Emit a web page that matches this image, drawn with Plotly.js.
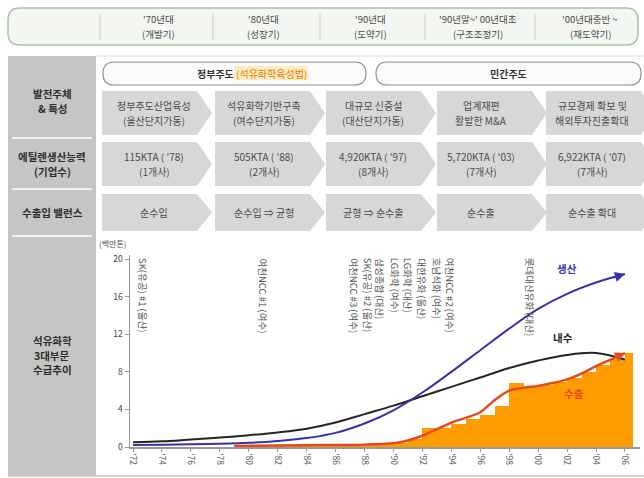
<!DOCTYPE html>
<html>
<head>
<meta charset="utf-8">
<script src="https://cdn.plot.ly/plotly-3.0.1.min.js"></script>
<style>
  html, body { margin: 0; padding: 0; background: #fff; }
  #chart { width: 644px; height: 478px; }
</style>
</head>
<body>
<div id="chart"></div>
<script>
// ---- Supply & demand of the three petrochemical segments (million tons) ----
const years = [1972, 1974, 1976, 1978, 1980, 1982, 1984, 1986, 1988, 1990, 1992, 1994, 1996, 1998, 2000, 2002, 2004, 2006];
const tickLabels = ["'72", "'74", "'76", "'78", "'80", "'82", "'84", "'86", "'88", "'90", "'92", "'94", "'96", "'98", "'00", "'02", "'04", "'06"];
const production = [0.2, 0.25, 0.3, 0.35, 0.45, 0.65, 0.95, 1.5, 2.5, 3.9, 5.8, 8.0, 10.3, 12.6, 14.7, 16.3, 17.5, 18.4];
const domestic = [0.5, 0.6, 0.8, 1.0, 1.25, 1.55, 1.95, 2.6, 3.5, 4.4, 5.4, 6.4, 7.4, 8.4, 9.2, 9.8, 10.0, 9.3];

const exportYears = [1979, 1982, 1985, 1988, 1990, 1991, 1992, 1993, 1994, 1995, 1996, 1997, 1998, 1999, 2000, 2001, 2002, 2003, 2004, 2005, 2006];
const exportTrend = [0.1, 0.15, 0.2, 0.25, 0.4, 0.7, 1.2, 1.9, 2.6, 3.1, 3.7, 5.0, 6.0, 6.3, 6.5, 6.8, 7.2, 7.8, 8.6, 9.3, 10.0];

const exportBlockYears = [1979, 1980, 1981, 1982, 1983, 1984, 1985, 1986, 1987, 1988, 1989, 1990, 1991, 1992, 1993, 1994, 1995, 1996, 1997, 1998, 1999, 2000, 2001, 2002, 2003, 2004, 2005, 2006];
const exportBlocks = [0.2, 0.2, 0.2, 0.2, 0.2, 0.2, 0.2, 0.2, 0.25, 0.25, 0.3, 0.45, 0.8, 2.0, 2.0, 2.4, 3.0, 3.4, 4.4, 6.8, 6.4, 6.6, 6.9, 7.3, 8.0, 8.7, 9.4, 10.0];

// Naphtha cracker start-ups (year, plant)
const plantYears = [1972.7, 1981.0, 1987.3, 1988.2, 1989.1, 1990.1, 1991.0, 1992.0, 1993.0, 1993.9, 1999.4];
const plantNames = ['SK(유공) #1 (울산)', '여천NCC #1 (여수)', '여천NCC #3 (여수)', 'SK(유공) #2 (울산)', '삼성종합 (대산)',
  'LG화학 (여수)', 'LG화학 (대산)', '대한유화 (울산)', '호남석화 (여수)', '여천NCC #2 (여수)', '롯데대산유화 (대산)'];

// ---- Timeline table ----
const periods = ["'70년대", "'80년대", "'90년대", "'90년말~' 00년대초", "'00년대중반 ~"];
const periodNames = ['(개발기)', '(성장기)', '(도약기)', '(구조조정기)', '(재도약기)'];
const stageLine1 = ['정부주도산업육성', '석유화학기반구축', '대규모 신증설', '업계재편', '규모경제 확보 및'];
const stageLine2 = ['(울산단지가동)', '(여수단지가동)', '(대산단지가동)', '활발한 M&A', '해외투자진출확대'];
const capacityLine1 = ["115KTA ( '78)", "505KTA ( '88)", "4,920KTA ( '97)", "5,720KTA ( '03)", "6,922KTA ( '07)"];
const capacityLine2 = ['(1개사)', '(2개사)', '(8개사)', '(7개사)', '(7개사)'];
const balances = ['순수입', '순수입 ⇒ 균형', '균형 ⇒ 순수출', '순수출', '순수출 확대'];
const rowTitles = [['발전주체', '& 특성'], ['에틸렌생산능력', '(기업수)'], ['수출입 밸런스'], ['석유화학', '3대부문', '수급추이']];

// ---- Page geometry (pixels) ----
const PL = 130, PT = 255, PW = 510, PH = 192;
const px = v => (v - PL) / PW;
const py = v => (PT + PH - v) / PH;
const P = (x, y) => px(x).toFixed(4) + ',' + py(y).toFixed(4);
const FONT = '"Noto Sans CJK KR", "Noto Sans", sans-serif';

function roundRect(x0, y0, x1, y1, r) {
  return `M${P(x0 + r, y0)} L${P(x1 - r, y0)} Q${P(x1, y0)} ${P(x1, y0 + r)} L${P(x1, y1 - r)} Q${P(x1, y1)} ${P(x1 - r, y1)} ` +
         `L${P(x0 + r, y1)} Q${P(x0, y1)} ${P(x0, y1 - r)} L${P(x0, y0 + r)} Q${P(x0, y0)} ${P(x0 + r, y0)} Z`;
}
function chevron(x0, y0, x1, y1, tip) {
  const ym = (y0 + y1) / 2;
  return `M${P(x0, y0)} L${P(x1 - tip, y0)} L${P(x1, ym)} L${P(x1 - tip, y1)} L${P(x0, y1)} Z`;
}
function hline(x0, x1, y, color, w) {
  return { type: 'line', xref: 'paper', yref: 'paper', x0: px(x0), x1: px(x1), y0: py(y), y1: py(y), line: { color: color, width: w }, layer: 'below' };
}
function vline(x, y0, y1, color, w) {
  return { type: 'line', xref: 'paper', yref: 'paper', x0: px(x), x1: px(x), y0: py(y0), y1: py(y1), line: { color: color, width: w }, layer: 'below' };
}
function label(x, y, text, size, color, extra) {
  return Object.assign({ xref: 'paper', yref: 'paper', x: px(x), y: py(y), text: text, showarrow: false,
    xanchor: 'center', yanchor: 'middle', font: { family: FONT, size: size, color: color } }, extra || {});
}
// stacked one-line labels, centred on y with a fixed line pitch
function stacked(x, y, lines, size, color, pitch, bold) {
  const top = y - (lines.length - 1) * pitch / 2;
  lines.forEach((ln, k) => annotations.push(label(x, top + k * pitch, bold ? '<b>' + ln + '</b>' : ln, size, color)));
}

const shapes = [];
const annotations = [];

// header band with period names
shapes.push({ type: 'path', xref: 'paper', yref: 'paper', path: roundRect(8, 8, 638, 45, 12),
  fillcolor: '#f3f6f1', line: { color: '#a9c3a1', width: 1.5 }, layer: 'below' });
[100, 213, 320, 425, 535].forEach(x => shapes.push(vline(x, 14, 40, '#c9cdc7', 1)));
const colCenters = [158, 263, 370, 478, 590];
periods.forEach((p, i) => stacked(colCenters[i], 26.5, [p, periodNames[i]], 9.5, '#4a4a4a', 14.5, false));

// left title column
shapes.push({ type: 'rect', xref: 'paper', yref: 'paper', x0: px(8), x1: px(96), y0: py(56), y1: py(476),
  fillcolor: '#c5c5c5', line: { width: 0 }, layer: 'below' });
[138, 189, 236].forEach(y => shapes.push(hline(12, 92, y, '#ffffff', 1.5)));
shapes.push(hline(96, 644, 56, '#dcdcdc', 1));
shapes.push(hline(8, 644, 476, '#c4c4c4', 1.5));
const rowTitleY = [101, 164, 212, 355];
rowTitles.forEach((t, i) => stacked(52, rowTitleY[i], t, 10.5, '#2e2e2e', 14.5, true));

// governance pills
shapes.push({ type: 'path', xref: 'paper', yref: 'paper', path: roundRect(103, 62, 366, 85, 11.5),
  fillcolor: '#fbfbfb', line: { color: '#8f8f8f', width: 1.2 }, layer: 'below' });
shapes.push({ type: 'path', xref: 'paper', yref: 'paper', path: roundRect(376, 62, 641, 85, 11.5),
  fillcolor: '#fbfbfb', line: { color: '#8f8f8f', width: 1.2 }, layer: 'below' });
shapes.push({ type: 'rect', xref: 'paper', yref: 'paper', x0: px(234), x1: px(308), y0: py(80), y1: py(66),
  fillcolor: 'rgba(255,226,150,0.55)', line: { width: 0 }, layer: 'below' });
annotations.push(label(252, 73.5, '<b>정부주도</b> <span style="color:#f07a00">(석유화학육성법)</span>', 10, '#333'));
annotations.push(label(508, 73.5, '<b>민간주도</b>', 10, '#333'));

// stage arrows: three rows of five chevrons
const chevLeft = [102, 215, 326, 437, 546];
const textX = [154, 264, 373, 481, 592];
const rows = [
  { y0: 91, y1: 135, lines: stageLine1.map((s, i) => [s, stageLine2[i]]) },
  { y0: 142, y1: 186, lines: capacityLine1.map((s, i) => [s, capacityLine2[i]]) },
  { y0: 194, y1: 231, lines: balances.map(s => [s]) }
];
rows.forEach(r => {
  chevLeft.forEach((x0, i) => {
    shapes.push({ type: 'path', xref: 'paper', yref: 'paper', path: chevron(x0, r.y0, x0 + 110, r.y1, 15),
      fillcolor: '#d7d7d7', line: { width: 0 }, layer: 'below' });
    stacked(textX[i], (r.y0 + r.y1) / 2, r.lines[i], 10, '#4d4d4d', 14.5, false);
  });
});

// chart texts
annotations.push(label(113, 243, '(백만톤)', 8, '#555'));
annotations.push({ x: 2002.0, y: 19.0, xref: 'x', yref: 'y', text: '<b>생산</b>', showarrow: false,
  font: { family: FONT, size: 10.5, color: '#3434a8' } });
annotations.push({ x: 2001.7, y: 11.7, xref: 'x', yref: 'y', text: '<b>내수</b>', showarrow: false,
  font: { family: FONT, size: 10.5, color: '#222' } });
annotations.push({ x: 2002.5, y: 5.7, xref: 'x', yref: 'y', text: '<b>수출</b>', showarrow: false,
  font: { family: FONT, size: 10.5, color: '#e64a1a' } });

plantYears.forEach((x, i) => annotations.push({ x: x, y: 20.3, xref: 'x', yref: 'y', text: plantNames[i],
  textangle: 90, xanchor: 'center', yanchor: 'top', showarrow: false,
  font: { family: FONT, size: 9.5, color: '#555' } }));

// arrowheads at the end of the production and export lines
function endArrow(xs, ys, color) {
  const n = xs.length;
  const t = 0.55;
  return { x: xs[n - 1], y: ys[n - 1], xref: 'x', yref: 'y', axref: 'x', ayref: 'y',
    ax: xs[n - 2] + (xs[n - 1] - xs[n - 2]) * t, ay: ys[n - 2] + (ys[n - 1] - ys[n - 2]) * t,
    text: '', showarrow: true, arrowhead: 2, arrowsize: 1, arrowwidth: 2, arrowcolor: color };
}
annotations.push(endArrow(years, production, '#3434a8'));
annotations.push(endArrow(exportYears, exportTrend, '#e64a1a'));

const traces = [
  { type: 'bar', x: exportBlockYears, y: exportBlocks, offset: 0,
    width: exportBlockYears.map((y, i) => i === exportBlockYears.length - 1 ? 0.55 : 1),
    marker: { color: '#ff9d00', line: { width: 0 } }, hoverinfo: 'skip' },
  { type: 'scatter', mode: 'lines', x: years, y: domestic, line: { color: '#262626', width: 2, shape: 'spline', smoothing: 1 } },
  { type: 'scatter', mode: 'lines', x: years, y: production, line: { color: '#3434a8', width: 2, shape: 'spline', smoothing: 1 } },
  { type: 'scatter', mode: 'lines', x: exportYears, y: exportTrend, line: { color: '#e64a1a', width: 2.5, shape: 'spline', smoothing: 0.8 } },
  { type: 'scatter', mode: 'markers', x: plantYears, y: plantYears.map(() => 20.6), cliponaxis: false,
    marker: { symbol: 'line-ns', size: 3, line: { color: '#888', width: 1 } }, hoverinfo: 'skip' }
];

const layout = {
  width: 644, height: 478,
  margin: { l: PL, r: 644 - PL - PW, t: PT, b: 478 - PT - PH, pad: 0 },
  paper_bgcolor: '#ffffff', plot_bgcolor: 'rgba(0,0,0,0)',
  showlegend: false, bargap: 0,
  font: { family: FONT, size: 9, color: '#444' },
  xaxis: { range: [1971.79, 2007.04], tickvals: years, ticktext: tickLabels, tickangle: 90,
    tickfont: { family: FONT, size: 8.5, color: '#555' }, showline: true, linecolor: '#999', linewidth: 1.5,
    ticks: 'outside', ticklen: 3, tickcolor: '#999', showgrid: false, zeroline: false },
  yaxis: { range: [0, 20.43], tickvals: [0, 4, 8, 12, 16, 20], ticktext: ['0', '4', '8', '12', '16', '20'],
    tickfont: { family: FONT, size: 8.5, color: '#444' }, showline: true, linecolor: '#999', linewidth: 1.5,
    ticks: 'outside', ticklen: 4, tickcolor: '#999', showgrid: false, zeroline: false },
  shapes: shapes,
  annotations: annotations
};

Plotly.newPlot('chart', traces, layout, { displayModeBar: false, staticPlot: true });
</script>
</body>
</html>
